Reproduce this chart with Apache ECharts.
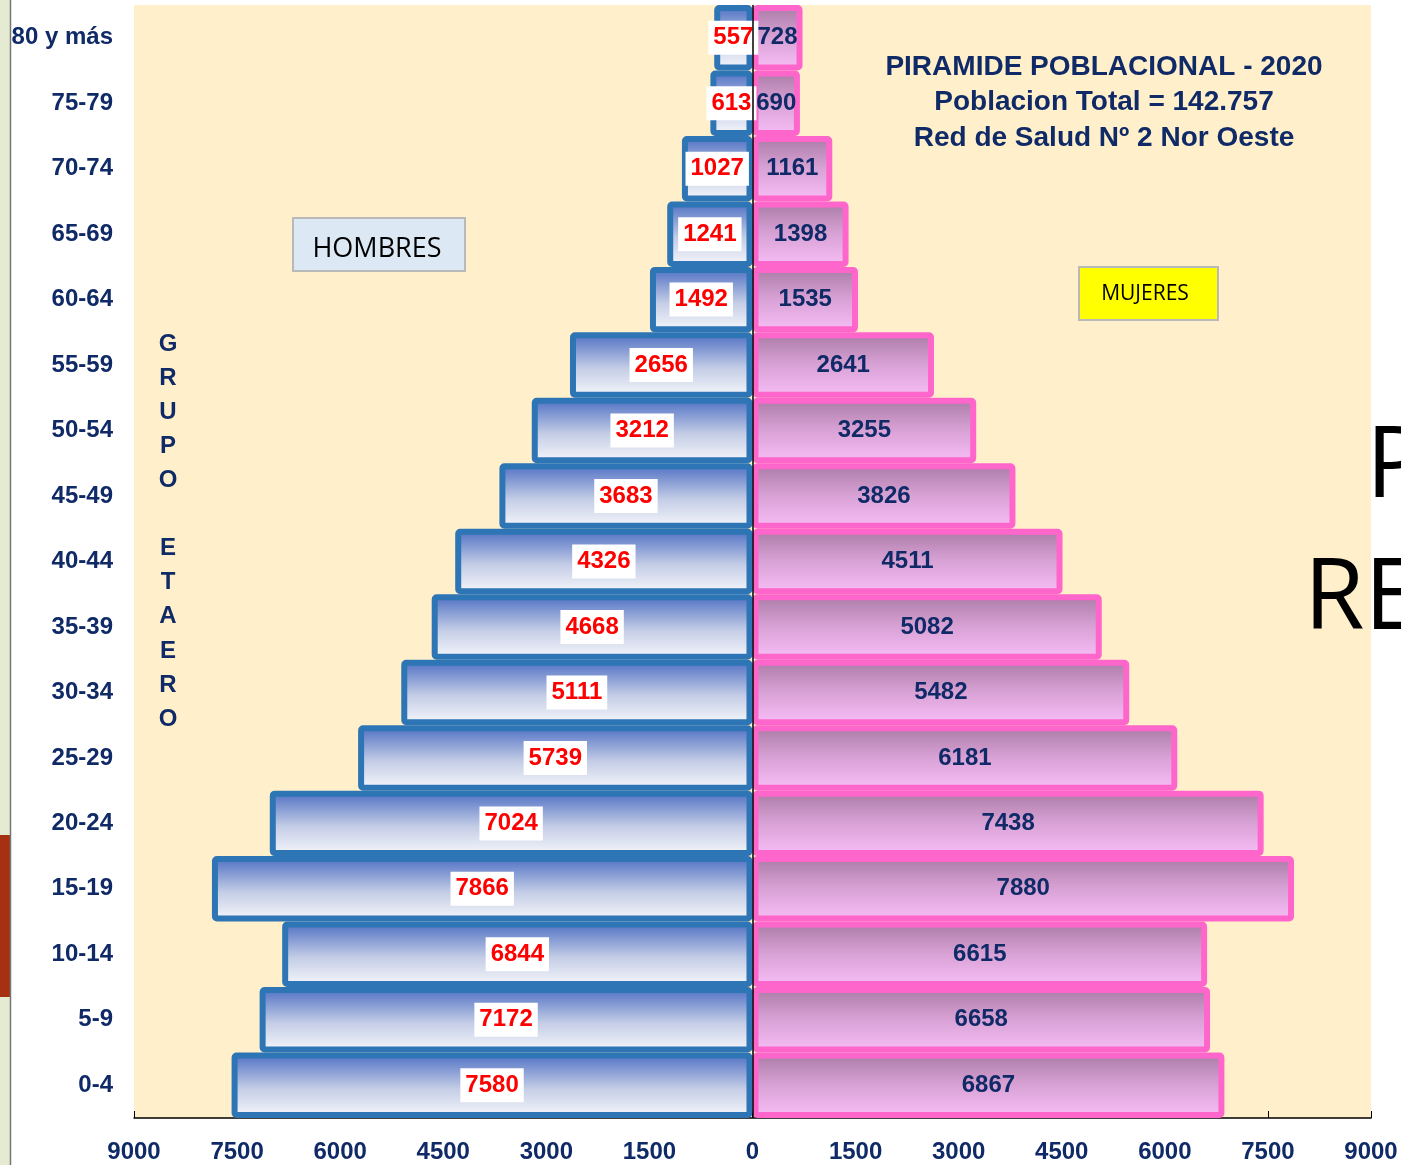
<!DOCTYPE html>
<html>
<head>
<meta charset="utf-8">
<script src="https://cdn.jsdelivr.net/npm/echarts@6/dist/echarts.min.js"></script>
<style>
    html, body { margin: 0; padding: 0; background: #fff; }
    #box { width: 1401px; height: 1165px; }
</style>
</head>
<body>
<div id="box"></div>
<script>
// grupos de edad, de abajo hacia arriba
var grupos = ['0-4', '5-9', '10-14', '15-19', '20-24', '25-29', '30-34', '35-39', '40-44',
    '45-49', '50-54', '55-59', '60-64', '65-69', '70-74', '75-79', '80 y más'];
var hombres = [7580, 7172, 6844, 7866, 7024, 5739, 5111, 4668, 4326,
    3683, 3212, 2656, 1492, 1241, 1027, 613, 557];
var mujeres = [6867, 6658, 6615, 7880, 7438, 6181, 5482, 5082, 4511,
    3826, 3255, 2641, 1535, 1398, 1161, 690, 728];
var titulo = ['PIRAMIDE POBLACIONAL - 2020', 'Poblacion Total = 142.757', 'Red de Salud Nº 2 Nor Oeste'];
var letras = ['G', 'R', 'U', 'P', 'O', '', 'E', 'T', 'A', 'E', 'R', 'O'];

var navy = '#0f2a66';
var myChart = echarts.init(document.getElementById('box'));

var graficos = [
    { type: 'rect', shape: { x: 0, y: 0, width: 10, height: 1165 }, style: { fill: '#e4ebd2' }, z: -1 },
    { type: 'rect', shape: { x: 0, y: 835, width: 10, height: 162 }, style: { fill: '#a63112' }, z: 0 },
    { type: 'line', shape: { x1: 10.5, y1: 0, x2: 10.5, y2: 1165 }, style: { stroke: '#777', lineWidth: 1.5 } },
    // textos grandes cortados a la derecha
    { type: 'text', x: 1366, y: 518, style: { text: 'P', font: '98px "Open Sans"', fill: '#000', textVerticalAlign: 'bottom' }, z: 10 },
    { type: 'text', x: 1304, y: 650, style: { text: 'RE', font: '98px "Open Sans"', fill: '#000', textVerticalAlign: 'bottom' }, z: 10 },
    // recuadro HOMBRES
    {
        type: 'rect', shape: { x: 293, y: 218, width: 172, height: 53 },
        style: { fill: '#dde8f5', stroke: '#b9b9b9', lineWidth: 2 }, z: 10
    },
    {
        type: 'text', x: 377, y: 249, style: { text: 'HOMBRES', font: '27px "Open Sans"', fill: '#000', align: 'center', verticalAlign: 'middle' }, z: 11
    },
    // recuadro MUJERES
    {
        type: 'rect', shape: { x: 1079, y: 267, width: 139, height: 53 },
        style: { fill: '#ffff00', stroke: '#b9b9b9', lineWidth: 2 }, z: 10
    },
    {
        type: 'text', x: 1145, y: 294, style: { text: 'MUJERES', font: '21px "Open Sans"', fill: '#000', align: 'center', verticalAlign: 'middle' }, z: 11
    }
];
for (var i = 0; i < titulo.length; i++) {
    graficos.push({
        type: 'text', x: 1104, y: 67 + i * 35.5,
        style: { text: titulo[i], font: 'bold 28px "Liberation Sans"', fill: navy, align: 'center', verticalAlign: 'middle' }, z: 10
    });
}
for (var i = 0; i < letras.length; i++) {
    if (letras[i] == '') continue;
    graficos.push({
        type: 'text', x: 168, y: 344 + i * 34.1,
        style: { text: letras[i], font: 'bold 24px "Liberation Sans"', fill: navy, align: 'center', verticalAlign: 'middle' }, z: 10
    });
}

var option = {
    backgroundColor: '#fff',
    animation: false,
    grid: {
        left: 134, right: 30, top: 5, bottom: 47,
        show: true, backgroundColor: '#fff0cb', borderWidth: 0
    },
    xAxis: {
        type: 'value',
        min: -9000, max: 9000, interval: 1500,
        splitLine: { show: false },
        axisLine: { show: true, lineStyle: { color: '#000', width: 1.5 } },
        axisTick: { show: true, inside: true, length: 7, lineStyle: { color: '#000' } },
        axisLabel: {
            color: navy, fontWeight: 'bold', fontSize: 24, fontFamily: 'Liberation Sans', margin: 22,
            formatter: function (v) { return Math.abs(v); }
        }
    },
    yAxis: {
        type: 'category',
        data: grupos,
        axisLine: { show: false },
        axisTick: { show: false },
        axisLabel: { color: navy, fontWeight: 'bold', fontSize: 24, fontFamily: 'Liberation Sans', margin: 21 }
    },
    series: [{
        name: 'Hombres',
        type: 'bar',
        barGap: '-100%',
        barCategoryGap: 0,
        data: hombres.map(function (v) { return -v; }),
        itemStyle: {
            color: new echarts.graphic.LinearGradient(0, 0, 0, 1, [
                { offset: 0, color: '#4a6cc2' },
                { offset: 0.55, color: '#c4cde6' },
                { offset: 1, color: '#f8f9fc' }
            ]),
            borderColor: '#2e75b6',
            borderWidth: 6,
            borderRadius: 2
        },
        label: {
            show: true, position: 'inside',
            color: '#ff0000', fontWeight: 'bold', fontSize: 24, fontFamily: 'Liberation Sans',
            backgroundColor: '#fff', padding: [6, 5, 4, 5],
            formatter: function (p) { return Math.abs(p.value); }
        },
        markLine: {
            silent: true, symbol: 'none', label: { show: false },
            lineStyle: { color: '#000', type: 'solid', width: 1.5 },
            data: [{ xAxis: 0 }]
        }
    }, {
        name: 'Mujeres',
        type: 'bar',
        barCategoryGap: 0,
        data: mujeres,
        itemStyle: {
            color: new echarts.graphic.LinearGradient(0, 0, 0, 1, [
                { offset: 0, color: '#a87aa4' },
                { offset: 0.5, color: '#d9a2d6' },
                { offset: 1, color: '#f7bff7' }
            ]),
            borderColor: '#ff66cc',
            borderWidth: 6,
            borderRadius: 2
        },
        label: {
            show: true, position: 'inside',
            color: navy, fontWeight: 'bold', fontSize: 24, fontFamily: 'Liberation Sans'
        }
    }],
    graphic: graficos
};
myChart.setOption(option);
</script>
</body>
</html>
